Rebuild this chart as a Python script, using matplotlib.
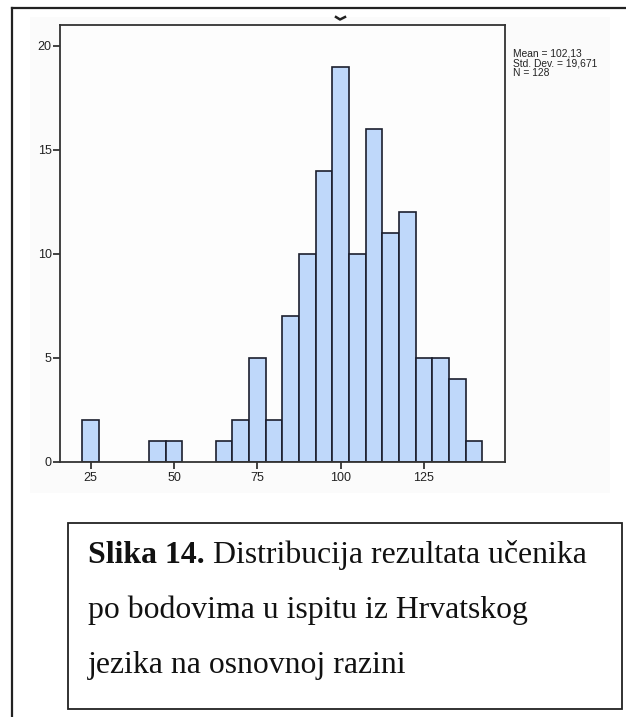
import matplotlib.pyplot as plt
from matplotlib.lines import Line2D
from matplotlib.patches import Rectangle

# histogram bins (centres, width 5) and counts
bin_centers = [25, 45, 50, 65, 70, 75, 80, 85, 90, 95, 100, 105, 110, 115, 120, 125, 130, 135, 140]
counts = [2, 1, 1, 1, 2, 5, 2, 7, 10, 14, 19, 10, 16, 11, 12, 5, 5, 4, 1]
bin_width = 5

x_ticks = [25, 50, 75, 100, 125]
y_ticks = [0, 5, 10, 15, 20]
stats_lines = ["Mean = 102,13", "Std. Dev. = 19,671", "N = 128"]
caption_bold = "Slika 14."
caption_lines = [" Distribucija rezultata učenika",
                 "po bodovima u ispitu iz Hrvatskog",
                 "jezika na osnovnoj razini"]

W, H = 626, 717
fig = plt.figure(figsize=(W / 100, H / 100), dpi=100)
fig.patch.set_facecolor('white')

# faint grey background of the pasted SPSS picture
fig.add_artist(Rectangle((30 / W, 1 - 493 / H), 580 / W, 476 / H,
                         transform=fig.transFigure, facecolor='#fbfbfb',
                         edgecolor='none', zorder=0))

# outer page frame (top and left edges)
fig.add_artist(Line2D([12 / W, 1.0], [1 - 8 / H, 1 - 8 / H], color='#222222', lw=1.6))
fig.add_artist(Line2D([12 / W, 12 / W], [0.0, 1 - 8 / H], color='#222222', lw=1.6))

# remnant of the clipped title
fig.add_artist(Line2D([336 / W, 340 / W, 345 / W], [1 - 17 / H, 1 - 19.5 / H, 1 - 17 / H],
                      color='#222222', lw=1.8))

ax = fig.add_axes([60 / W, 1 - 462 / H, 445 / W, 437 / H])
ax.set_facecolor('#fdfdfd')
ax.bar(bin_centers, counts, width=bin_width, color='#bfd8fa',
       edgecolor='#1c1f2e', linewidth=1.2, zorder=2)

ax.set_xlim(15.8, 149.3)
ax.set_ylim(0, 21)
ax.set_xticks(x_ticks)
ax.set_yticks(y_ticks)
ax.tick_params(axis='both', direction='out', length=5, width=1.2,
               color='#222222', labelsize=9, labelcolor='#222222')
ax.tick_params(axis='y', pad=1)
ax.tick_params(axis='x', pad=2)
for lab in ax.get_xticklabels() + ax.get_yticklabels():
    lab.set_fontfamily('Liberation Sans')
for sp in ax.spines.values():
    sp.set_color('#333333')
    sp.set_linewidth(1.3)

# stats block
for i, s in enumerate(stats_lines):
    fig.text(513 / W, 1 - (56 + 10 * i) / H, s, ha='left', va='baseline',
             fontsize=7.4, family='Liberation Sans', color='#222222')

# caption box
fig.add_artist(Rectangle((68 / W, 1 - 709 / H), 554 / W, 186 / H,
                         transform=fig.transFigure, facecolor='white',
                         edgecolor='#222222', linewidth=1.3))

baselines = [563, 618, 673]
fs = 22.9
t = fig.text(88 / W, 1 - baselines[0] / H, caption_bold, ha='left', va='baseline',
             fontsize=fs, family='Liberation Serif', weight='bold', color='#111111')
renderer = fig.canvas.get_renderer()
bb = t.get_window_extent(renderer=renderer)
fig.text(bb.x1 / W, 1 - baselines[0] / H, caption_lines[0], ha='left', va='baseline',
         fontsize=fs, family='Liberation Serif', color='#111111')
for line, yb in zip(caption_lines[1:], baselines[1:]):
    fig.text(88 / W, 1 - yb / H, line, ha='left', va='baseline',
             fontsize=fs, family='Liberation Serif', color='#111111')

fig.savefig('out.png', dpi=100)
